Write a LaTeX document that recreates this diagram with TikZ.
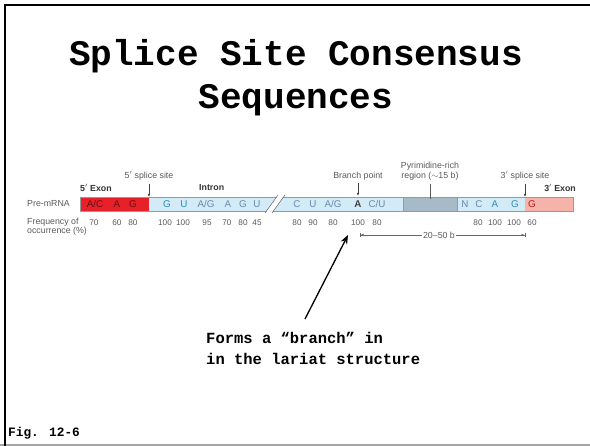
\documentclass[tikz,border=0pt]{standalone}
\usepackage{fontspec}
\setmainfont{Liberation Sans}
\newfontfamily\courier{Liberation Mono}
\usetikzlibrary{arrows.meta}

\definecolor{exonred}{HTML}{E62129}
\definecolor{exonpink}{HTML}{F6B3AA}
\definecolor{intronblue}{HTML}{D3EAF7}
\definecolor{pyrgrey}{HTML}{A7BAC8}
\definecolor{seqteal}{HTML}{2E8DB8}
\definecolor{seqslate}{HTML}{6A8AA6}
\definecolor{labgrey}{HTML}{5A5A5A}

\tikzset{
  lab/.style={text=labgrey, font=\fontsize{8.8}{9.5}\selectfont},
  boldlab/.style={text=black!80, font=\fontsize{8.8}{9.5}\selectfont\bfseries},
  letter/.style={font=\fontsize{9.8}{11}\selectfont},
  freq/.style={text=labgrey, font=\fontsize{8.2}{9}\selectfont},
  mono/.style={font=\courier\bfseries},
  pointer/.style={draw=black!75, line width=0.6pt, -{Latex[length=3pt,width=2.5pt]}}
}

\begin{document}
\begin{tikzpicture}[x=1pt, y=-1pt, every node/.style={inner sep=0pt}]
\useasboundingbox (0,0) rectangle (590,446);

% slide frame
\draw[black!35, line width=1.5pt] (0,445) -- (590,445);
\draw[black, line width=2pt] (5,446) -- (5,5) -- (590,5);

% title
\node[mono, font=\courier\bfseries\fontsize{36}{42}\selectfont, anchor=base] (title1) at (296,66) {Splice Site Consensus};
\node[mono, font=\courier\bfseries\fontsize{36}{42}\selectfont, anchor=base] (title2) at (296,109) {Sequences};

% the pre-mRNA bar
\fill[intronblue] (149,197) rectangle (525,211);
\fill[pyrgrey] (403,197) rectangle (457,211);
\fill[exonred] (80,197) rectangle (149,211);
\fill[exonpink] (525,197) rectangle (573,211);
\draw[black!40, line width=0.5pt] (80,197) rectangle (573,211);
\draw[black!40, line width=0.4pt] (403,197) -- (403,211) (457,197) -- (457,211);
% break in the intron
\fill[white] (266,212.5) -- (272,212.5) -- (284,195.5) -- (278,195.5) -- cycle;
\draw[black!60, line width=0.5pt] (265,213) -- (278,195) (272,213) -- (285,195);

% sequence letters
\foreach \x/\s [count=\i] in {95/{A/C}, 117/A, 133/G}
  \node[letter, text=black!55!exonred] (ex\i) at (\x,204) {\s};
\foreach \x/\s [count=\i] in {167/G, 184/U}
  \node[letter, text=seqteal] (gu\i) at (\x,204) {\s};
\foreach \x/\s [count=\i] in {206/{A/G}, 228/A, 243/G, 257/U, 297/C, 313/U, 333/{A/G}, 377/{C/U}}
  \node[letter, text=seqslate] (in\i) at (\x,204) {\s};
\node[letter, text=black!75, font=\fontsize{9.8}{11}\selectfont\bfseries] (bp) at (358,204) {A};
\foreach \x/\s [count=\i] in {465/N, 479/C}
  \node[letter, text=seqslate] (py\i) at (\x,204) {\s};
\foreach \x/\s [count=\i] in {495/A, 515/G}
  \node[letter, text=seqteal] (ag\i) at (\x,204) {\s};
\node[letter, text=exonred!80!black] (ex3) at (532,204) {G};

% frequencies
\foreach \x/\f in {94/70, 117/60, 133/80, 165/100, 183/100, 207/95, 227/70, 243/80,
  257/45, 297/80, 313/90, 333/80, 358/100, 377/80, 478/80, 495/100, 514/100, 532/60}
  \node[freq] at (\x,223) {\f};

% labels
\node[lab, anchor=west] (premrna) at (27,204) {Pre-mRNA};
\node[lab, anchor=west] (freq1) at (27,222) {Frequency of};
\node[lab, anchor=west] (freq2) at (27,231.5) {occurrence (\%)};
\node[boldlab, anchor=west] (exon5) at (80,188) {5$'$ Exon};
\node[boldlab, anchor=west] (intron) at (199,188) {Intron};
\node[boldlab, anchor=east] (exon3) at (576,188) {3$'$ Exon};
\node[lab] (ss5) at (149,176) {5$'$ splice site};
\node[lab] (branch) at (358,176) {Branch point};
\node[lab, anchor=base] (pyr1) at (430,169) {Pyrimidine-rich};
\node[lab, anchor=base] (pyr) at (430,179) {region ($\sim$15 b)};
\node[lab] (ss3) at (525,176) {3$'$ splice site};

\coordinate (ss5pt) at (149,197);
\coordinate (bppt) at (358,196);
\coordinate (pyrpt) at (430,199);
\coordinate (ss3pt) at (525,197);
\draw[pointer] (ss5.south) ++(0,3) -- (ss5pt);
\draw[pointer] (branch.south) ++(0,3) -- (bppt);
\draw[black!65, line width=0.6pt] (pyr.south) ++(0,3) -- (pyrpt);
\draw[pointer] (ss3.south) ++(0,3) -- (ss3pt);

% branch-point to 3' site distance
\coordinate (dimL) at (360,235);
\coordinate (dimR) at (525,235);
\node[lab, fill=white, inner xsep=1pt] (dist) at (439,235) {20--50 b};
\draw[black!60, line width=0.5pt, {Bar[width=4pt]Latex[length=3pt,width=2.5pt]}-] (dimL) -- (dist.west);
\draw[black!60, line width=0.5pt, -{Latex[length=3pt,width=2.5pt]Bar[width=4pt]}] (dist.east) -- (dimR);

% note on the branch point
\coordinate (notetail) at (305,319);
\coordinate (notehead) at (348,235);
\draw[black, line width=1.3pt, -{Stealth[length=9pt,width=7pt]}] (notetail) -- (notehead);
\node[mono, font=\courier\bfseries\fontsize{15.5}{21}\selectfont, anchor=base west] (note1) at (206,344) {Forms a “branch” in};
\node[mono, font=\courier\bfseries\fontsize{15.5}{21}\selectfont, anchor=base west] (note2) at (206,365) {in the lariat structure};

\node[mono, font=\courier\bfseries\fontsize{12.8}{15}\selectfont, anchor=base west] (fig) at (8,437) {Fig. 12-6};
\end{tikzpicture}
\end{document}
